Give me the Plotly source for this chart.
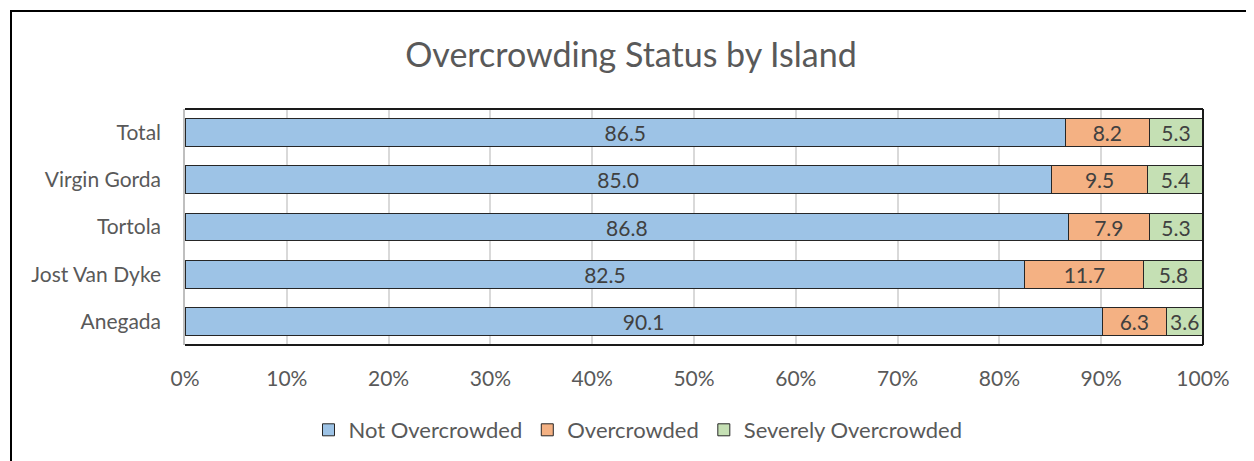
import plotly.graph_objects as go

islands = ["Anegada", "Jost Van Dyke", "Tortola", "Virgin Gorda", "Total"]
not_overcrowded = [90.1, 82.5, 86.8, 85.0, 86.5]
overcrowded = [6.3, 11.7, 7.9, 9.5, 8.2]
severely_overcrowded = [3.6, 5.8, 5.3, 5.4, 5.3]
x_ticks = [0, 10, 20, 30, 40, 50, 60, 70, 80, 90, 100]

series = [
    ("Not Overcrowded", not_overcrowded, "#9DC3E6"),
    ("Overcrowded", overcrowded, "#F4B183"),
    ("Severely Overcrowded", severely_overcrowded, "#C5E0B4"),
]

FONT = "Lato, Carlito, Calibri, sans-serif"

fig = go.Figure()
for name, vals, color in series:
    fig.add_trace(go.Bar(
        y=islands, x=vals, name=name, orientation="h",
        marker=dict(color=color, line=dict(color="#262626", width=1)),
        text=[f"{v:.1f}" for v in vals],
        textposition="inside", insidetextanchor="middle",
        textfont=dict(family=FONT, size=21, color="#404040"),
        constraintext="none",
    ))

# page has an 8px body margin; work in screen coordinates and subtract it
OFF = 8
W, H = 1246, 453
L, T = 185 - OFF, 109 - OFF
R = W - (1203 - OFF)
B = H - (345 - OFF)
pw, ph = W - L - R, H - T - B

def px(x):
    return (x - OFF - L) / pw

def py(y):
    return (H - B - (y - OFF)) / ph

shapes = [
    dict(type="rect", xref="paper", yref="paper",
         x0=px(11), x1=px(1280), y0=py(490), y1=py(11),
         line=dict(color="black", width=2), layer="above"),
    dict(type="line", xref="paper", yref="paper", x0=0, x1=1, y0=1, y1=1,
         line=dict(color="#1a1a1a", width=2), layer="above"),
    dict(type="line", xref="paper", yref="paper", x0=1, x1=1, y0=0, y1=1,
         line=dict(color="#1a1a1a", width=2), layer="above"),
    dict(type="line", xref="paper", yref="paper", x0=0, x1=1, y0=0, y1=0,
         line=dict(color="#1a1a1a", width=2), layer="above"),
]

fig.update_layout(
    width=W, height=H,
    margin=dict(l=L, r=R, t=T, b=B, autoexpand=False),
    barmode="stack", barnorm="percent", bargap=0.41,
    paper_bgcolor="white", plot_bgcolor="white",
    font=dict(family=FONT, color="#595959"),
    title=dict(text="Overcrowding Status by Island", x=0.5, xanchor="center",
               y=1 - (55 - OFF) / H, yanchor="middle", yref="container",
               font=dict(family=FONT, size=34, color="#595959")),
    xaxis=dict(range=[0, 100], tickvals=x_ticks,
               ticktext=[f"{t}%" for t in x_ticks],
               showgrid=True, gridcolor="#D9D9D9", gridwidth=1.5,
               zeroline=False, showline=False,
               ticks="outside", ticklen=15, tickcolor="rgba(0,0,0,0)",
               tickfont=dict(family=FONT, size=21, color="#595959"),
               fixedrange=True),
    yaxis=dict(categoryorder="array", categoryarray=islands,
               showline=True, linecolor="#BFBFBF", linewidth=1.5,
               showgrid=False, zeroline=False,
               ticks="outside", ticklen=18, tickcolor="rgba(0,0,0,0)",
               tickfont=dict(family=FONT, size=21, color="#595959"),
               fixedrange=True),
    legend=dict(orientation="h", x=px(638), xanchor="center",
                y=py(430), yanchor="middle",
                font=dict(family=FONT, size=22, color="#595959"),
                traceorder="normal", itemwidth=30,
                bgcolor="rgba(0,0,0,0)"),
    uniformtext=dict(minsize=21, mode="show"),
    shapes=shapes,
)

fig.write_html("out.html")
